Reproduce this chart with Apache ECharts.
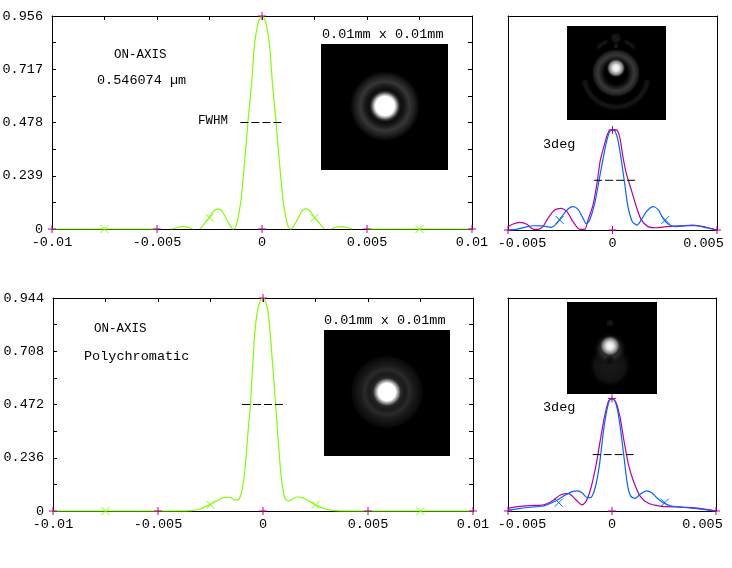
<!DOCTYPE html>
<html lang="en">
<head>
  <meta charset="UTF-8">
  <title>psf</title>
  <script src="https://cdn.jsdelivr.net/npm/echarts@6/dist/echarts.min.js"></script>
  <style>
    html, body { margin: 0; padding: 0; background: #fff; }
    #main { width: 732px; height: 568px; }
  </style>
</head>
<body>
<div id="main"></div>
<script>
  // x values are in micrometres, the axis labels show them in mm
  var wideTicks = [-10, -7.5, -5, -2.5, 0, 2.5, 5, 7.5, 10];
  var wideLabels = [-10, -5, 0, 5, 10];
  var narrowLabels = [-5, 0, 5];
  var wideCross = [-10, -5, 0, 5, 10];
  var narrowCross = [-5, 0, 5];

  var topYTicks = [0, 0.1195, 0.239, 0.3585, 0.478, 0.5975, 0.717, 0.8365, 0.956];
  var topYLabels = [0, 0.239, 0.478, 0.717, 0.956];
  var lowYTicks = [0, 0.118, 0.236, 0.354, 0.472, 0.59, 0.708, 0.826, 0.944];
  var lowYLabels = [0, 0.236, 0.472, 0.708, 0.944];

  // top left, on-axis 0.546074 um
  var monoX = [-10, -5, null, -4.3, -4, -3.8, -3.5, -3.3, null, -2.95, -2.7, -2.52, -2.3, -2.1, -1.9, -1.7, -1.5, -1.38, -1.25, -1.14, -0.98, -0.78, -0.67, -0.5, -0.35, -0.19, -0.08, 0, 0.08, 0.19, 0.35, 0.5, 0.67, 0.78, 0.98, 1.14, 1.25, 1.37, 1.5, 1.7, 1.9, 2.1, 2.3, 2.5, 2.7, 2.95, null, 3.3, 3.5, 3.8, 4, 4.3, null, 5, 10];
  var monoY = [0, 0, null, 0, 0.008, 0.011, 0.008, 0, null, 0, 0.03, 0.05, 0.08, 0.09, 0.08, 0.045, 0.012, 0, 0.01, 0.05, 0.146, 0.355, 0.478, 0.65, 0.833, 0.923, 0.95, 0.956, 0.95, 0.923, 0.833, 0.65, 0.478, 0.355, 0.146, 0.05, 0.01, 0, 0.012, 0.045, 0.08, 0.09, 0.08, 0.05, 0.03, 0, null, 0, 0.008, 0.011, 0.008, 0, null, 0, 0];
  var monoMarkX = [-7.5, -2.5, 2.5, 7.5];
  var monoMarkY = [0, 0.05, 0.05, 0];
  var monoFwhmX = [-1.03, 1];
  var monoFwhmY = [0.478, 0.478];

  // bottom left, on-axis polychromatic
  var polyX = [-10, -5, -3.41, -3.02, -2.54, -2.22, -1.9, -1.59, -1.35, -1.19, -1.03, -0.87, -0.71, -0.6, -0.4, -0.24, -0.08, 0, 0.08, 0.24, 0.4, 0.6, 0.71, 0.87, 1.03, 1.19, 1.35, 1.59, 1.9, 2.22, 2.54, 3.02, 3.41, 5, 10];
  var polyY = [0, 0, 0.002, 0.009, 0.027, 0.044, 0.059, 0.061, 0.049, 0.049, 0.079, 0.175, 0.353, 0.472, 0.78, 0.9, 0.94, 0.944, 0.94, 0.885, 0.72, 0.472, 0.33, 0.15, 0.06, 0.045, 0.049, 0.062, 0.058, 0.042, 0.025, 0.008, 0.002, 0, 0];
  var polyMarkX = [-7.5, -2.5, 2.5, 7.5];
  var polyMarkY = [0, 0.027, 0.027, 0];
  var polyFwhmX = [-1, 1.03];
  var polyFwhmY = [0.472, 0.472];

  // top right, 3deg
  var tanTopX = [-5, -4.6, -4.2, -3.8, -3.33, -2.93, -2.69, -2.37, -2.13, -1.89, -1.65, -1.41, -1.25, -1.09, -0.85, -0.61, -0.37, -0.22, -0.06, 0.1, 0.26, 0.42, 0.58, 0.74, 0.95, 1.17, 1.38, 1.62, 1.94, 2.18, 2.42, 2.66, 3.05, 3.53, 4.01, 4.49, 5];
  var tanTopY = [0, 0.003, 0.012, 0.019, 0.018, 0.012, 0.027, 0.067, 0.094, 0.104, 0.092, 0.052, 0.027, 0.045, 0.119, 0.238, 0.357, 0.417, 0.447, 0.444, 0.402, 0.313, 0.209, 0.104, 0.037, 0.022, 0.045, 0.082, 0.104, 0.092, 0.052, 0.027, 0.015, 0.019, 0.019, 0.01, 0];
  var sagTopX = [-5, -4.76, -4.44, -4.12, -3.8, -3.56, -3.33, -3.09, -2.77, -2.45, -2.18, -1.89, -1.57, -1.33, -1.17, -0.93, -0.74, -0.58, -0.37, -0.22, -0.06, 0.18, 0.34, 0.5, 0.66, 0.9, 1.14, 1.38, 1.7, 2.1, 2.58, 3.21, 3.85, 4.49, 5];
  var sagTopY = [0.015, 0.027, 0.034, 0.027, 0.004, 0.003, 0.015, 0.052, 0.089, 0.097, 0.082, 0.037, 0.003, 0.003, 0.045, 0.112, 0.209, 0.313, 0.387, 0.432, 0.447, 0.447, 0.417, 0.327, 0.253, 0.179, 0.104, 0.045, 0.015, 0.01, 0.015, 0.018, 0.022, 0.012, 0];
  var topMarkX = [-2.53, 2.53];
  var topMarkY = [0.045, 0.045];
  var topFwhmX = [-0.88, 1.16];
  var topFwhmY = [0.222, 0.222];

  // bottom right, 3deg
  var tanLowX = [-5, -4.39, -3.76, -3.28, -2.88, -2.56, -2.24, -1.92, -1.68, -1.44, -1.2, -1.04, -0.81, -0.6, -0.41, -0.22, -0.06, 0.07, 0.26, 0.42, 0.58, 0.74, 0.9, 1.11, 1.35, 1.67, 1.91, 2.15, 2.46, 2.86, 3.58, 4.38, 5];
  var tanLowY = [0.004, 0.012, 0.018, 0.022, 0.037, 0.052, 0.071, 0.086, 0.089, 0.081, 0.059, 0.059, 0.103, 0.207, 0.354, 0.458, 0.496, 0.496, 0.45, 0.354, 0.236, 0.118, 0.066, 0.056, 0.074, 0.089, 0.081, 0.059, 0.037, 0.022, 0.015, 0.007, 0];
  var sagLowX = [-5, -4.55, -3.92, -3.28, -2.88, -2.48, -2.08, -1.76, -1.44, -1.24, -1.01, -0.76, -0.57, -0.37, -0.17, -0.01, 0.2, 0.39, 0.55, 0.79, 1.03, 1.35, 1.75, 2.3, 3.1, 3.9, 4.54, 5];
  var sagLowY = [0.012, 0.019, 0.024, 0.027, 0.044, 0.071, 0.077, 0.052, 0.027, 0.044, 0.103, 0.207, 0.31, 0.414, 0.487, 0.499, 0.48, 0.414, 0.325, 0.207, 0.133, 0.066, 0.034, 0.022, 0.018, 0.015, 0.007, 0];
  var lowMarkX = [-2.56, 2.54];
  var lowMarkY = [0.037, 0.037];
  var lowFwhmX = [-0.93, 1.06];
  var lowFwhmY = [0.25, 0.25];

  var GREEN = '#7fff00';
  var MAGENTA = '#bb0099';
  var BLUE = '#0066ff';
  var FONT = '"Liberation Mono"';
  var FONT_SIZE = 13.5;
  var PLUS = 'path://M5 0V10M0 5H10';
  var CROSS = 'path://M0 0L10 10M0 10L10 0';

  function zip(xs, ys) {
    return xs.map(function (x, i) {
      return x === null ? [null, null] : [x, ys[i]];
    });
  }
  function zeros(xs) {
    return xs.map(function (x) { return [x, 0]; });
  }

  var myChart = echarts.init(document.getElementById('main'), null, {renderer: 'canvas'});

  var grid = [
    {left: 52, top: 16, width: 420, height: 213, outerBoundsMode: 'none'},
    {left: 508, top: 16, width: 209, height: 214, outerBoundsMode: 'none'},
    {left: 53, top: 298, width: 420, height: 213, outerBoundsMode: 'none'},
    {left: 508, top: 298, width: 208, height: 213, outerBoundsMode: 'none'}
  ];

  function frameLine() {
    return {show: true, onZero: false, lineStyle: {color: '#000', width: 1}};
  }

  function xAxes(i, wide) {
    var range = wide ? 10 : 5;
    return [{
      type: 'value', gridIndex: i, position: 'bottom', min: -range, max: range,
      interval: 2.5, splitLine: {show: false}, axisLine: frameLine(),
      axisTick: {show: false},
      axisLabel: {
        show: true, margin: 6,
        customValues: wide ? wideLabels : narrowLabels,
        fontFamily: FONT, fontSize: FONT_SIZE, color: '#000',
        // the outer labels of the narrow plots are pulled inside the frame
        formatter: function (v) {
          var s = String(v / 1000);
          if (!wide && v < 0) return '{l|' + s + '}';
          if (!wide && v > 0) return '{r|' + s + '}';
          return s;
        },
        rich: {
          l: {padding: [0, 0, 0, 28], fontFamily: FONT, fontSize: FONT_SIZE, color: '#000'},
          r: {padding: [0, 27, 0, 0], fontFamily: FONT, fontSize: FONT_SIZE, color: '#000'}
        }
      }
    }, {
      type: 'value', gridIndex: i, position: 'top', min: -range, max: range,
      interval: 2.5, splitLine: {show: false}, axisLine: frameLine(),
      axisTick: wide
        ? {show: true, inside: true, length: 4, customValues: wideTicks, lineStyle: {color: '#000'}}
        : {show: false},
      axisLabel: {show: false}
    }];
  }

  function yAxes(i, max, ticks, labels) {
    var tick = ticks
      ? {show: true, inside: true, length: 4, customValues: ticks, lineStyle: {color: '#000'}}
      : {show: false};
    return [{
      type: 'value', gridIndex: i, position: 'left', min: 0, max: max,
      splitLine: {show: false}, axisLine: frameLine(), axisTick: tick,
      axisLabel: labels ? {
        show: true, margin: 9, customValues: labels, fontFamily: FONT,
        fontSize: FONT_SIZE, color: '#000', formatter: function (v) { return String(v); }
      } : {show: false}
    }, {
      type: 'value', gridIndex: i, position: 'right', min: 0, max: max,
      splitLine: {show: false}, axisLine: frameLine(), axisTick: tick,
      axisLabel: {show: false}
    }];
  }

  function curve(i, data, color) {
    return {
      type: 'line', xAxisIndex: i * 2, yAxisIndex: i * 2, data: data,
      showSymbol: false, smooth: 0.25, z: 3, clip: false,
      lineStyle: {color: color, width: 1.2}
    };
  }
  function fwhm(i, data) {
    return {
      type: 'line', xAxisIndex: i * 2, yAxisIndex: i * 2, data: data,
      showSymbol: false, z: 4, lineStyle: {color: '#000', width: 1, type: [8, 3]}
    };
  }
  function marks(i, data, symbol, color, size) {
    return {
      type: 'scatter', xAxisIndex: i * 2, yAxisIndex: i * 2, data: data,
      symbol: symbol, symbolSize: size, clip: false, z: 5,
      itemStyle: {color: 'none', borderColor: color, borderWidth: 1, opacity: 1}
    };
  }

  var series = [
    curve(0, zip(monoX, monoY), GREEN),
    fwhm(0, zip(monoFwhmX, monoFwhmY)),
    marks(0, zip(monoMarkX, monoMarkY), CROSS, GREEN, 8),
    marks(0, zeros(wideCross).concat([[0, 0.956]]), PLUS, MAGENTA, 8),

    curve(1, zip(sagTopX, sagTopY), MAGENTA),
    curve(1, zip(tanTopX, tanTopY), BLUE),
    fwhm(1, zip(topFwhmX, topFwhmY)),
    marks(1, zip(topMarkX, topMarkY), CROSS, BLUE, 8),
    marks(1, zeros(narrowCross).concat([[0, 0.447]]), PLUS, MAGENTA, 8),

    curve(2, zip(polyX, polyY), GREEN),
    fwhm(2, zip(polyFwhmX, polyFwhmY)),
    marks(2, zip(polyMarkX, polyMarkY), CROSS, GREEN, 8),
    marks(2, zeros(wideCross).concat([[0, 0.944]]), PLUS, MAGENTA, 8),

    curve(3, zip(sagLowX, sagLowY), MAGENTA),
    curve(3, zip(tanLowX, tanLowY), BLUE),
    fwhm(3, zip(lowFwhmX, lowFwhmY)),
    marks(3, zip(lowMarkX, lowMarkY), CROSS, BLUE, 8),
    marks(3, zeros(narrowCross).concat([[0, 0.499]]), PLUS, MAGENTA, 8)
  ];

  function label(x, y, text, size) {
    return {
      type: 'text', x: x, y: y, z: 20, silent: true,
      style: {text: text, fill: '#000', font: (size || FONT_SIZE) + 'px ' + FONT, textVerticalAlign: 'middle'}
    };
  }
  function box(x, y, w, h) {
    return {type: 'rect', z: 10, silent: true, shape: {x: x, y: y, width: w, height: h}, style: {fill: '#000'}};
  }
  function radial(stops) {
    return {
      type: 'radial', x: 0.5, y: 0.5, r: 0.5,
      colorStops: stops.map(function (s) { return {offset: s[0], color: s[1]}; })
    };
  }
  function blob(cx, cy, rx, ry, stops, z) {
    return {
      type: 'ellipse', z: z || 11, silent: true,
      shape: {cx: cx, cy: cy, rx: rx, ry: ry}, style: {fill: radial(stops)}
    };
  }
  function arc(cx, cy, r, from, to, color, width) {
    return {
      type: 'arc', z: 11, silent: true,
      shape: {cx: cx, cy: cy, r: r, startAngle: from * Math.PI / 180, endAngle: to * Math.PI / 180, clockwise: true},
      style: {stroke: color, lineWidth: width, fill: 'none', shadowBlur: 3, shadowColor: color}
    };
  }

  var monoStops = [[0, '#fff'], [0.27, '#fff'], [0.33, '#aaa'], [0.4, '#333'], [0.46, '#0c0c0c'], [0.55, '#161616'], [0.7, '#363636'], [0.85, '#1e1e1e'], [1, '#000']];
  var polyStops = [[0, '#fff'], [0.24, '#fff'], [0.31, '#999'], [0.39, '#262626'], [0.5, '#1a1a1a'], [0.62, '#2a2a2a'], [0.75, '#1a1a1a'], [0.88, '#101010'], [0.98, '#080808'], [1, '#000']];
  var coreStops = [[0, '#fff'], [0.35, '#e0e0e0'], [0.7, '#777'], [1, 'rgba(0,0,0,0)']];
  var haloStops = [[0, '#000'], [0.45, '#000'], [0.72, '#383838'], [0.88, '#202020'], [1, 'rgba(0,0,0,0)']];
  var wingStops = [[0, '#383838'], [0.6, '#282828'], [1, 'rgba(0,0,0,0)']];
  var dimStops = [[0, '#1a1a1a'], [0.7, '#121212'], [1, 'rgba(0,0,0,0)']];
  var darkStops = [[0, '#0a0a0a'], [1, 'rgba(0,0,0,0)']];

  myChart.setOption({
    backgroundColor: '#fff',
    animation: false,
    grid: grid,
    xAxis: [].concat(xAxes(0, true), xAxes(1, false), xAxes(2, true), xAxes(3, false)),
    yAxis: [].concat(
      yAxes(0, 0.956, topYTicks, topYLabels),
      yAxes(1, 0.956, null, null),
      yAxes(2, 0.944, lowYTicks, lowYLabels),
      yAxes(3, 0.944, null, null)
    ),
    series: series,
    graphic: {elements: [
      label(114, 55, 'ON-AXIS', 12.5),
      label(97, 80, '0.546074 \u00b5m'),
      label(198, 121, 'FWHM', 12.5),
      label(322, 34, '0.01mm x 0.01mm'),
      label(94, 329, 'ON-AXIS', 12.5),
      label(84, 356, 'Polychromatic'),
      label(324, 320, '0.01mm x 0.01mm'),
      label(543, 144, '3deg'),
      label(543, 407, '3deg'),

      box(321, 44, 127, 126),
      blob(385, 106, 35, 35, monoStops),

      box(324, 330, 126, 126),
      blob(387, 392, 36, 36, polyStops),

      box(567, 26, 99, 94),
      arc(616, 75, 32, 10, 170, '#141414', 4),
      arc(616, 66, 26, 225, 250, '#141414', 3),
      arc(616, 66, 26, 290, 315, '#141414', 3),
      blob(616, 38, 6, 7, dimStops),
      blob(616, 46, 3, 8, dimStops),
      blob(616, 73, 25, 27, haloStops),
      blob(616, 68, 10, 14, coreStops, 12),

      box(567, 302, 90, 92),
      blob(610, 323, 4, 13, dimStops),
      blob(610, 366, 28, 22, dimStops),
      blob(610, 349, 30, 17, wingStops),
      blob(610, 360, 11, 5, darkStops),
      blob(610, 346, 11, 15, coreStops, 12)
    ]}
  });
</script>
</body>
</html>
